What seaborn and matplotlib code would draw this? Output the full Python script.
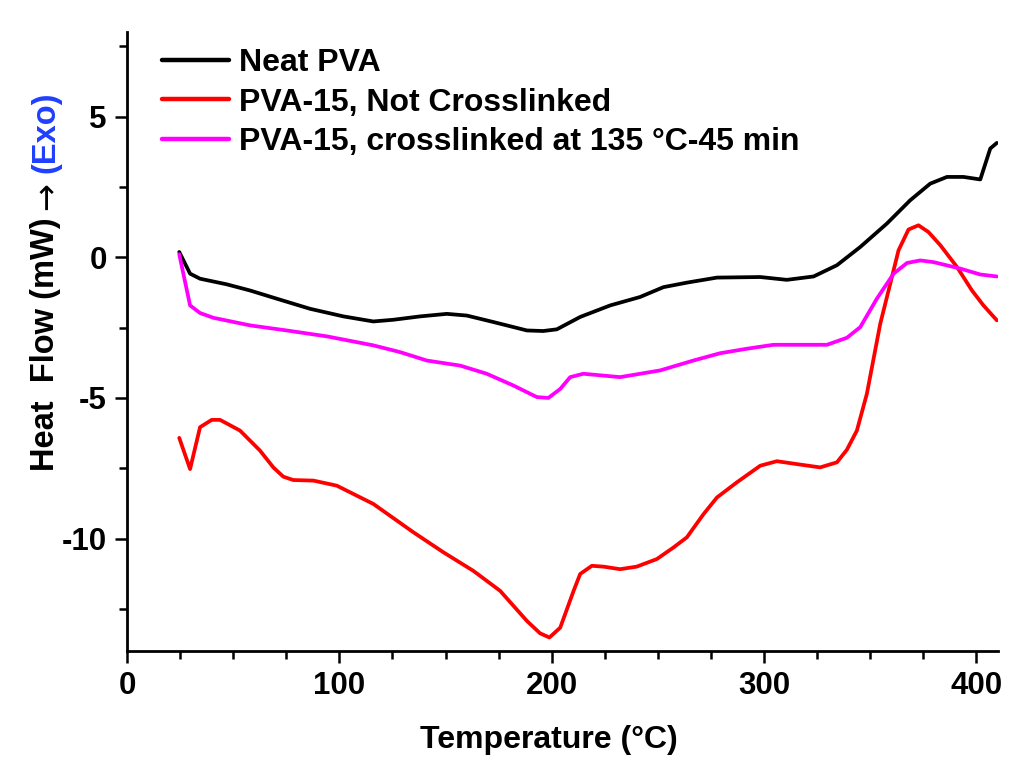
import numpy as np
import pandas as pd
import matplotlib
matplotlib.use("Agg")
import matplotlib.pyplot as plt
import seaborn as sns
from matplotlib.ticker import MultipleLocator

# DSC traces: temperature (°C) vs heat flow (mW)
neat_T = [24.6, 29.7, 34.4, 47, 58, 70.5, 86.2, 101.9, 116, 125.4, 138, 150.6,
          160, 172.5, 188.3, 196, 202.4, 213.4, 227.5, 241.6, 252.6, 263.6,
          277.8, 298.2, 310.7, 323.3, 334.3, 345.3, 357.8, 368.8, 378.2, 386.1,
          393.9, 401.8, 406.5, 409.6]
neat_HF = [0.19, -0.58, -0.76, -0.96, -1.18, -1.47, -1.83, -2.10, -2.28, -2.22,
           -2.10, -2.01, -2.07, -2.30, -2.60, -2.62, -2.56, -2.12, -1.71, -1.41,
           -1.06, -0.90, -0.72, -0.70, -0.80, -0.68, -0.28, 0.37, 1.20, 2.03,
           2.62, 2.86, 2.86, 2.77, 3.87, 4.07]

ncl_T = [24.6, 29.7, 34.4, 39.9, 43.8, 53.2, 62.6, 68.9, 73.6, 78.3, 87.8, 98.8,
         116, 134.9, 149, 163.1, 175.7, 188.3, 194.5, 198.9, 204, 210.3, 213.4,
         218.9, 224.4, 232.2, 240, 249.5, 257.3, 263.6, 271.5, 277.8, 287.2,
         298.2, 306, 317, 326.4, 334.3, 339, 343.7, 348.4, 354.7, 359.4, 363.3,
         368, 372.7, 377.4, 383, 390.8, 397.9, 403.3, 409.6]
ncl_HF = [-6.42, -7.53, -6.04, -5.78, -5.78, -6.16, -6.87, -7.47, -7.80, -7.92,
          -7.94, -8.12, -8.77, -9.78, -10.49, -11.15, -11.86, -12.93, -13.37,
          -13.52, -13.17, -11.86, -11.26, -10.97, -11.0, -11.09, -11.0, -10.73,
          -10.32, -9.96, -9.13, -8.54, -8.0, -7.41, -7.25, -7.37, -7.47, -7.29,
          -6.84, -6.16, -4.85, -2.36, -0.94, 0.25, 0.99, 1.14, 0.90, 0.43,
          -0.34, -1.18, -1.71, -2.24]

xl_T = [24.6, 29.7, 34.4, 40.7, 58, 75.2, 94.1, 116, 128.6, 141.2, 156.9, 169.4,
        182, 193, 198.4, 204, 208.7, 214.9, 232.2, 251.1, 266.7, 279.3, 291.9,
        304.4, 317, 329.6, 339, 345.3, 353.1, 361, 367.3, 373.5, 379.8, 392.4,
        401.8, 409.6]
xl_HF = [0.11, -1.71, -1.98, -2.15, -2.42, -2.60, -2.81, -3.13, -3.37, -3.67,
         -3.85, -4.14, -4.56, -4.97, -5.0, -4.68, -4.26, -4.14, -4.26, -4.02,
         -3.67, -3.41, -3.25, -3.11, -3.11, -3.11, -2.86, -2.48, -1.47, -0.58,
         -0.20, -0.11, -0.17, -0.40, -0.61, -0.68]

labels = ["Neat PVA", "PVA-15, Not Crosslinked", "PVA-15, crosslinked at 135 °C-45 min"]
colors = ["#000000", "#FF0000", "#FF00FF"]

x_ticks = [0, 100, 200, 300, 400]
y_ticks = [-10, -5, 0, 5]

sns.set_style("ticks")
plt.rcParams["font.family"] = ["Liberation Sans", "DejaVu Sans"]
plt.rcParams["font.weight"] = "bold"
plt.rcParams["axes.unicode_minus"] = False
for key in ["text.color", "axes.labelcolor", "xtick.color", "ytick.color",
            "axes.edgecolor"]:
    plt.rcParams[key] = "black"

frames = []
for T, HF, lab in zip([neat_T, ncl_T, xl_T], [neat_HF, ncl_HF, xl_HF], labels):
    frames.append(pd.DataFrame({"Temperature": T, "HeatFlow": HF, "Sample": lab}))
df = pd.concat(frames, ignore_index=True)

W, H = 1028, 771
fig = plt.figure(figsize=(W / 100, H / 100), dpi=100)
ax = fig.add_axes([127 / W, 1 - 651 / H, (997.7 - 127) / W, (651 - 32.4) / H])

sns.lineplot(data=df, x="Temperature", y="HeatFlow", hue="Sample",
             hue_order=labels, palette=colors, sort=False, estimator=None,
             linewidth=2.7, ax=ax)

ax.set_xlim(0, 410)
ax.set_ylim(-14, 8)
ax.set_xticks(x_ticks)
ax.set_yticks(y_ticks)
ax.xaxis.set_minor_locator(MultipleLocator(25))
ax.yaxis.set_minor_locator(MultipleLocator(2.5))
ax.set_xlabel("")
ax.set_ylabel("")

for side in ["top", "right"]:
    ax.spines[side].set_visible(False)
for side in ["left", "bottom"]:
    ax.spines[side].set_linewidth(2.0)
    ax.spines[side].set_color("black")

ax.tick_params(which="major", direction="out", length=8.5, width=1.8,
               labelsize=22.5, colors="black")
ax.tick_params(which="minor", direction="out", length=5.5, width=1.8,
               colors="black")
ax.tick_params(axis="x", which="major", pad=6)
ax.tick_params(axis="y", which="major", pad=6)
for lbl in ax.get_xticklabels() + ax.get_yticklabels():
    lbl.set_fontweight("bold")
    lbl.set_color("black")

leg = ax.legend(handles=ax.get_legend_handles_labels()[0], labels=labels,
                loc="upper left", bbox_to_anchor=(162 / W, 1 - 48 / H),
                bbox_transform=fig.transFigure, frameon=False,
                handlelength=2.1, handletextpad=0.3,
                labelspacing=0.3, borderpad=0, borderaxespad=0,
                prop={"weight": "bold", "size": 23})
for line in leg.get_lines():
    line.set_linewidth(3.2)
for txt in leg.get_texts():
    txt.set_color("black")

fig.text(549 / W, 1 - 740 / H, "Temperature (°C)", ha="center", va="center",
         fontsize=23, fontweight="bold", color="black")

# y label built from three pieces so "(Exo)" can be coloured
fig.canvas.draw()
renderer = fig.canvas.get_renderer()
xc = 46 / W
t1 = fig.text(xc, 1 - 471 / H, "Heat  Flow (mW)", rotation=90, ha="center",
              va="bottom", fontsize=23.5, fontweight="bold", color="black")
fig.canvas.draw()
top1 = t1.get_window_extent(renderer).y1
t2 = fig.text(xc + 1 / W, (top1 + 7) / H, "→", rotation=90, ha="center",
              va="bottom", fontsize=24, fontweight="normal", color="black",
              family="DejaVu Sans")
fig.canvas.draw()
top2 = t2.get_window_extent(renderer).y1
fig.text(xc, (top2 + 9) / H, "(Exo)", rotation=90, ha="center", va="bottom",
         fontsize=23.5, fontweight="bold", color="#1F3FFF")

fig.savefig("out.png", dpi=100, facecolor="white")
